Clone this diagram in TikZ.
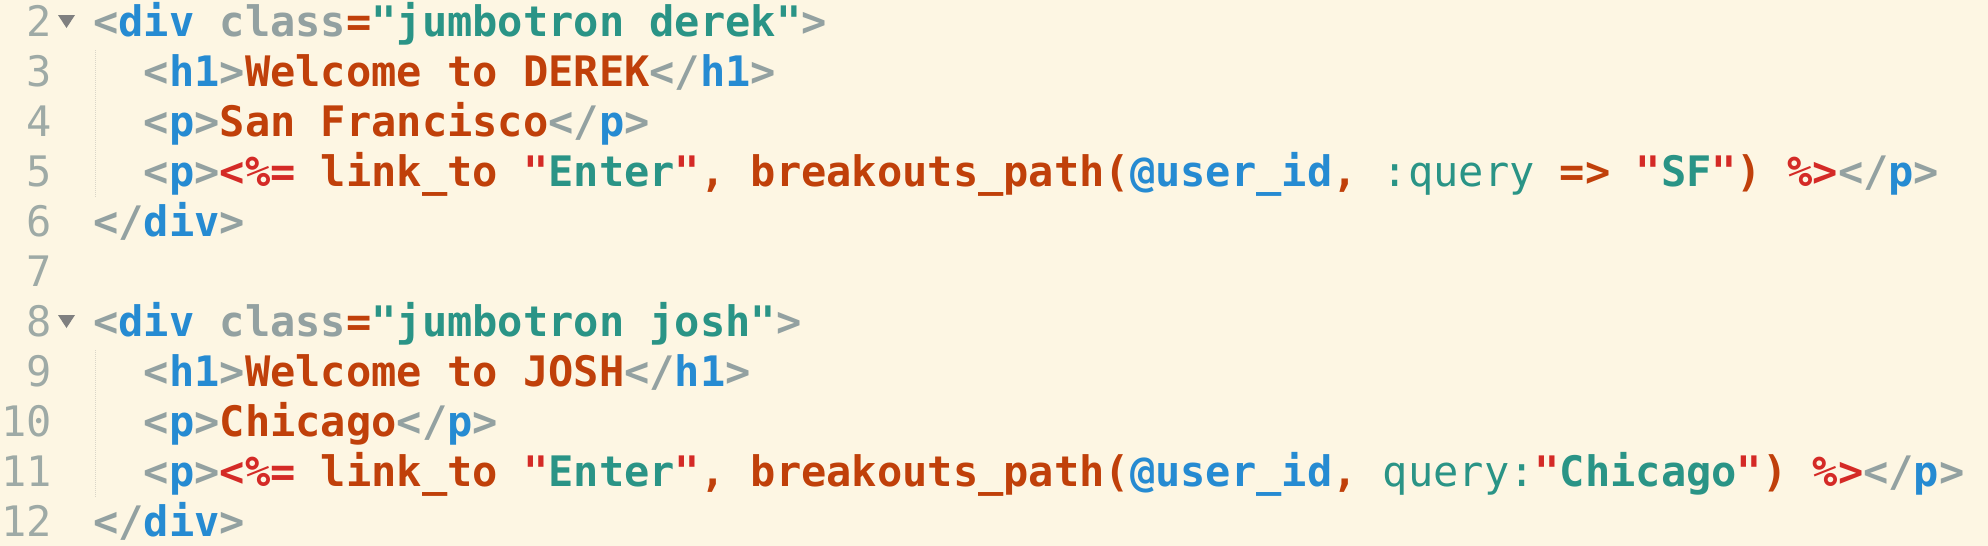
\documentclass[tikz,border=0pt]{standalone}
\usepackage{fontspec}
\setmonofont{DejaVu Sans Mono}
\usepackage{xcolor}
\usepackage{tikz}
\usetikzlibrary{positioning}
\definecolor{bgcol}{HTML}{FDF6E3}
\definecolor{tagpunct}{HTML}{93A1A1}
\definecolor{tagname}{HTML}{268BD2}
\definecolor{plaincol}{HTML}{C0400A}
\definecolor{strcol}{HTML}{2A9486}
\definecolor{erbcol}{HTML}{D42A26}
\definecolor{numcol}{HTML}{9EAAA6}
\definecolor{foldcol}{HTML}{808080}
\definecolor{guidecol}{HTML}{D9D5C8}
\newcommand{\cgrey}[1]{\textcolor{tagpunct}{#1}}
\newcommand{\cblue}[1]{\textcolor{tagname}{#1}}
\newcommand{\corange}[1]{\textcolor{plaincol}{#1}}
\newcommand{\cteal}[1]{\textcolor{strcol}{#1}}
\newcommand{\cred}[1]{\textcolor{erbcol}{#1}}
\newcommand{\csym}[1]{\textcolor{strcol}{\mdseries #1}}
\tikzstyle{codeline} = [anchor=base west, inner sep=0pt,
    font=\ttfamily\bfseries\fontsize{21}{25}\selectfont]
\tikzstyle{lnum} = [anchor=base east, inner sep=0pt, text=numcol,
    font=\ttfamily\fontsize{21}{25}\selectfont]
\tikzstyle{guide} = [draw=guidecol, line width=0.5pt, dash pattern=on 0.5pt off 0.5pt]
\tikzstyle{fold} = [fill=foldcol]
\begin{document}
\begin{tikzpicture}[x=0.5pt, y=-0.5pt]
    % Background
    \useasboundingbox (0,0) rectangle (1988,546);
    \fill[bgcol] (0,0) rectangle (1988,546);

    % Line numbers
    \node [lnum] (num2) at (52,36) {2};
    \node [lnum] (num3) at (52,86) {3};
    \node [lnum] (num4) at (52,136) {4};
    \node [lnum] (num5) at (52,186) {5};
    \node [lnum] (num6) at (52,236) {6};
    \node [lnum] (num7) at (52,286) {7};
    \node [lnum] (num8) at (52,336) {8};
    \node [lnum] (num9) at (52,386) {9};
    \node [lnum] (num10) at (52,436) {10};
    \node [lnum] (num11) at (52,486) {11};
    \node [lnum] (num12) at (52,536) {12};

    % Fold markers and indent guides
    \path [fold] (58,15) -- (75,15) -- (66.5,28) -- cycle;
    \path [fold] (58,315) -- (75,315) -- (66.5,328) -- cycle;
    \path [guide] (95.5,50) -- (95.5,198);
    \path [guide] (95.5,350) -- (95.5,498);

    % Place code lines
    \node [codeline] (line2) at (93,36) {\cgrey{<}\cblue{div} \cgrey{class}\corange{=}\cteal{"jumbotron derek"}\cgrey{>}};
    \node [codeline] (line3) at (143.5,86) {\cgrey{<}\cblue{h1}\cgrey{>}\corange{Welcome to DEREK}\cgrey{</}\cblue{h1}\cgrey{>}};
    \node [codeline] (line4) at (143.5,136) {\cgrey{<}\cblue{p}\cgrey{>}\corange{San Francisco}\cgrey{</}\cblue{p}\cgrey{>}};
    \node [codeline] (line5) at (143.5,186) {\cgrey{<}\cblue{p}\cgrey{>}\cred{<\%=} \corange{link\_to} \cred{"}\cteal{Enter}\cred{"}\corange{, breakouts\_path(}\cblue{@user\_id}\corange{,} \csym{:query} \corange{=>} \cred{"}\cteal{SF}\cred{"}\corange{)} \cred{\%>}\cgrey{</}\cblue{p}\cgrey{>}};
    \node [codeline] (line6) at (93,236) {\cgrey{</}\cblue{div}\cgrey{>}};
    \node [codeline] (line8) at (93,336) {\cgrey{<}\cblue{div} \cgrey{class}\corange{=}\cteal{"jumbotron josh"}\cgrey{>}};
    \node [codeline] (line9) at (143.5,386) {\cgrey{<}\cblue{h1}\cgrey{>}\corange{Welcome to JOSH}\cgrey{</}\cblue{h1}\cgrey{>}};
    \node [codeline] (line10) at (143.5,436) {\cgrey{<}\cblue{p}\cgrey{>}\corange{Chicago}\cgrey{</}\cblue{p}\cgrey{>}};
    \node [codeline] (line11) at (143.5,486) {\cgrey{<}\cblue{p}\cgrey{>}\cred{<\%=} \corange{link\_to} \cred{"}\cteal{Enter}\cred{"}\corange{, breakouts\_path(}\cblue{@user\_id}\corange{,} \csym{query:}\cred{"}\cteal{Chicago}\cred{"}\corange{)} \cred{\%>}\cgrey{</}\cblue{p}\cgrey{>}};
    \node [codeline] (line12) at (93,536) {\cgrey{</}\cblue{div}\cgrey{>}};
\end{tikzpicture}
\end{document}
